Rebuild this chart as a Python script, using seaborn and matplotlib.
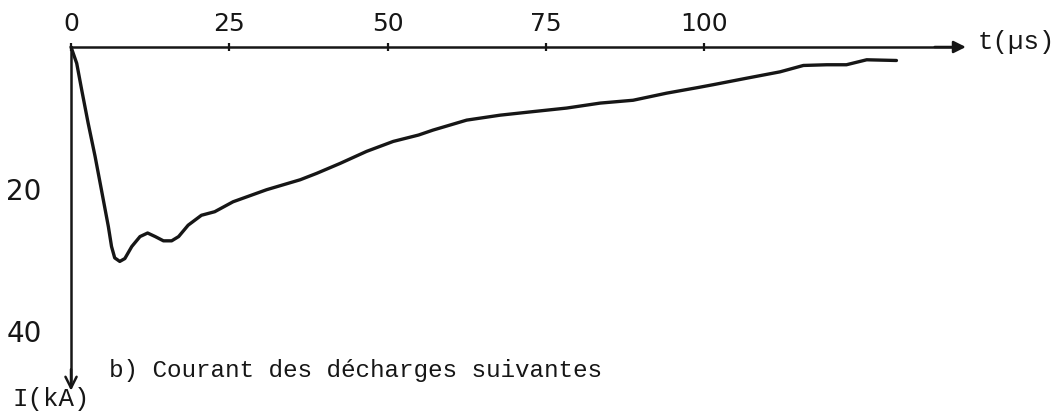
import matplotlib
matplotlib.use("Agg")
import matplotlib.pyplot as plt
import seaborn as sns
import pandas as pd

# Data: time (us) and current (kA)
t_us = [0, 0.9, 1.7, 2.7, 3.8, 4.8, 5.9, 6.4, 6.9, 7.7, 8.5, 9.6, 10.9,
        12.1, 13.3, 14.6, 15.9, 17.0, 18.5, 20.6, 22.7, 25.6, 30.9, 36.2,
        38.8, 42.5, 46.7, 50.9, 54.9, 57.2, 62.5, 67.8, 73.0, 78.3, 83.6,
        88.8, 94.1, 99.1, 101.5, 106.7, 112.0, 115.7, 119.4, 122.5, 125.7,
        130.4]
i_ka = [0, 2.3, 6.1, 10.7, 15.4, 20.1, 25.3, 28.1, 29.7, 30.2, 29.8, 28.1,
        26.7, 26.2, 26.7, 27.3, 27.3, 26.7, 25.1, 23.7, 23.2, 21.8, 20.1,
        18.7, 17.8, 16.4, 14.7, 13.3, 12.4, 11.7, 10.3, 9.6, 9.1, 8.6, 7.9,
        7.5, 6.5, 5.7, 5.3, 4.4, 3.5, 2.6, 2.5, 2.5, 1.8, 1.9]
x_ticks = [0, 25, 50, 75, 100]
y_ticks = [20, 40]

df = pd.DataFrame({"t": t_us, "I": i_ka})

sns.set_theme(style="white")
ink = "#161616"

fig = plt.figure(figsize=(10.6, 4.13), dpi=100)
ax = fig.add_axes([0, 0, 1, 1])
ax.set_facecolor("white")

sns.lineplot(data=df, x="t", y="I", ax=ax, color=ink, linewidth=2.4)

ax.set_xlim(-11.22, 156.24)
ax.set_ylim(51.55, -6.62)

# axes crossing at the origin, drawn as arrows
for s in ["bottom", "right"]:
    ax.spines[s].set_visible(False)
ax.spines["top"].set_position(("data", 0))
ax.spines["left"].set_position(("data", 0))
ax.spines["top"].set_bounds(0, 140)
ax.spines["left"].set_bounds(0, 47)
for s in ["top", "left"]:
    ax.spines[s].set_color(ink)
    ax.spines[s].set_linewidth(1.8)

ax.annotate("", xy=(141.8, 0), xytext=(136, 0),
            arrowprops=dict(arrowstyle="-|>", color=ink, lw=1.8,
                            mutation_scale=18))
ax.annotate("", xy=(0, 48.8), xytext=(0, 45),
            arrowprops=dict(arrowstyle="->", color=ink, lw=1.8,
                            mutation_scale=20))

ax.xaxis.tick_top()
ax.set_xticks(x_ticks)
ax.set_xticklabels([str(v) for v in x_ticks])
ax.set_yticks(y_ticks)
ax.set_yticklabels([str(v) for v in y_ticks])
ax.tick_params(axis="x", direction="inout", length=6, width=1.6, color=ink,
               pad=5, labelsize=18, labelcolor=ink)
ax.tick_params(axis="y", direction="inout", length=10, width=1.6, color=ink,
               pad=16, labelsize=20, labelcolor=ink)
ax.set_xlabel("")
ax.set_ylabel("")

mono = "Liberation Mono"
ax.text(143.3, -0.7, "t(µs)", fontsize=18.5, family=mono, color=ink,
        ha="left", va="center")
ax.text(-9.3, 49.6, "I(kA)", fontsize=18.5, family=mono, color=ink,
        ha="left", va="center")
ax.text(6.0, 45.6, "b) Courant des décharges suivantes", fontsize=17.5,
        family=mono, color=ink, ha="left", va="center")

fig.savefig("out.png", dpi=100, facecolor="white")
